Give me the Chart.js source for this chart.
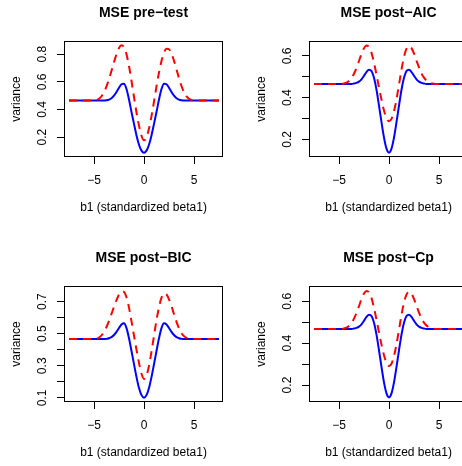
<!DOCTYPE html>
<html>
<head>
<meta charset="utf-8">
<script src="https://cdn.jsdelivr.net/npm/chart.js@4/dist/chart.umd.min.js"></script>
<style>
  html, body { margin: 0; padding: 0; background: #fff; overflow: hidden; width: 462px; height: 466px; }
  canvas { position: absolute; }
</style>
</head>
<body>
<canvas id="preTest" width="231" height="233" style="left:0px;top:0px"></canvas>
<canvas id="postAic" width="231" height="233" style="left:245px;top:0px"></canvas>
<canvas id="postBic" width="231" height="233" style="left:0px;top:245px"></canvas>
<canvas id="postCp" width="231" height="233" style="left:245px;top:245px"></canvas>
<script>
// Standardized beta1 grid shared by every curve
const xValues = [-7.5, -7, -6.5, -6, -5.5,
  -5, -4.75, -4.5, -4.25, -4, -3.75, -3.5, -3.25, -3, -2.75, -2.5, -2.25, -2, -1.75, -1.5, -1.25, -1, -0.75, -0.5, -0.25,
  0, 0.25, 0.5, 0.75, 1, 1.25, 1.5, 1.75, 2, 2.25, 2.5, 2.75, 3, 3.25, 3.5, 3.75, 4, 4.25, 4.5, 4.75, 5,
  5.5, 6, 6.5, 7, 7.5];

const xTicks = [-5, 0, 5];
const xTickLabels = ['\u22125', '0', '5'];

// MSE pre-test
const preTestSolid = [0.465, 0.465, 0.465, 0.465, 0.465,
  0.465, 0.465, 0.465, 0.465, 0.465, 0.467, 0.472, 0.482, 0.500, 0.527, 0.558, 0.583, 0.587, 0.548, 0.472, 0.382, 0.296, 0.212, 0.145, 0.102,
  0.087, 0.102, 0.145, 0.212, 0.296, 0.382, 0.472, 0.548, 0.587, 0.583, 0.558, 0.527, 0.500, 0.482, 0.472, 0.467, 0.465, 0.465, 0.465, 0.465, 0.465,
  0.465, 0.465, 0.465, 0.465, 0.465];
const preTestDashed = [0.465, 0.465, 0.465, 0.465, 0.465,
  0.465, 0.469, 0.478, 0.496, 0.525, 0.567, 0.620, 0.680, 0.742, 0.800, 0.846, 0.866, 0.852, 0.800, 0.715, 0.607, 0.490, 0.378, 0.283, 0.210,
  0.177, 0.200, 0.262, 0.352, 0.458, 0.568, 0.668, 0.752, 0.812, 0.840, 0.836, 0.805, 0.752, 0.690, 0.627, 0.570, 0.525, 0.495, 0.478, 0.469, 0.466,
  0.465, 0.465, 0.465, 0.465, 0.465];
const preTestYTicks = [0.2, 0.4, 0.6, 0.8];
const preTestYLabels = ['0.2', '0.4', '0.6', '0.8'];

// MSE post-AIC
const postAicSolid = [0.466, 0.466, 0.466, 0.466, 0.466,
  0.466, 0.466, 0.466, 0.466, 0.466, 0.466, 0.468, 0.471, 0.477, 0.488, 0.505, 0.523, 0.534, 0.528, 0.495, 0.438, 0.362, 0.282, 0.208, 0.155,
  0.136, 0.155, 0.208, 0.282, 0.362, 0.438, 0.495, 0.528, 0.534, 0.523, 0.505, 0.488, 0.477, 0.471, 0.468, 0.466, 0.466, 0.466, 0.466, 0.466, 0.466,
  0.466, 0.466, 0.466, 0.466, 0.466];
const postAicDashed = [0.466, 0.466, 0.466, 0.466, 0.466,
  0.466, 0.466, 0.468, 0.472, 0.480, 0.494, 0.515, 0.543, 0.576, 0.610, 0.637, 0.650, 0.643, 0.615, 0.568, 0.510, 0.448, 0.390, 0.338, 0.302,
  0.287, 0.298, 0.335, 0.392, 0.462, 0.535, 0.596, 0.635, 0.648, 0.638, 0.612, 0.578, 0.545, 0.516, 0.496, 0.482, 0.474, 0.469, 0.467, 0.466, 0.466,
  0.466, 0.466, 0.466, 0.466, 0.466];
const postAicYTicks = [0.2, 0.3, 0.4, 0.5, 0.6];
const postAicYLabels = ['0.2', '', '0.4', '', '0.6'];

// MSE post-BIC
const postBicSolid = [0.467, 0.467, 0.467, 0.467, 0.467,
  0.467, 0.467, 0.467, 0.467, 0.467, 0.468, 0.472, 0.479, 0.492, 0.512, 0.536, 0.558, 0.565, 0.535, 0.472, 0.392, 0.310, 0.230, 0.161, 0.117,
  0.101, 0.117, 0.161, 0.230, 0.310, 0.392, 0.472, 0.535, 0.565, 0.558, 0.536, 0.512, 0.492, 0.479, 0.472, 0.468, 0.467, 0.467, 0.467, 0.467, 0.467,
  0.467, 0.467, 0.467, 0.467, 0.467];
const postBicDashed = [0.467, 0.467, 0.467, 0.467, 0.467,
  0.467, 0.469, 0.476, 0.490, 0.512, 0.542, 0.580, 0.624, 0.668, 0.710, 0.745, 0.765, 0.762, 0.728, 0.663, 0.578, 0.488, 0.400, 0.318, 0.250,
  0.218, 0.240, 0.300, 0.388, 0.488, 0.585, 0.665, 0.725, 0.752, 0.745, 0.715, 0.672, 0.622, 0.574, 0.534, 0.504, 0.485, 0.474, 0.469, 0.467, 0.467,
  0.467, 0.467, 0.467, 0.467, 0.467];
const postBicYTicks = [0.1, 0.2, 0.3, 0.4, 0.5, 0.6, 0.7];
const postBicYLabels = ['0.1', '', '0.3', '', '0.5', '', '0.7'];

// MSE post-Cp
const postCpSolid = [0.468, 0.468, 0.468, 0.468, 0.468,
  0.468, 0.468, 0.468, 0.468, 0.468, 0.468, 0.470, 0.473, 0.479, 0.490, 0.507, 0.525, 0.536, 0.530, 0.498, 0.441, 0.366, 0.287, 0.213, 0.160,
  0.141, 0.160, 0.213, 0.287, 0.366, 0.441, 0.498, 0.530, 0.536, 0.525, 0.507, 0.490, 0.479, 0.473, 0.470, 0.468, 0.468, 0.468, 0.468, 0.468, 0.468,
  0.468, 0.468, 0.468, 0.468, 0.468];
const postCpDashed = [0.468, 0.468, 0.468, 0.468, 0.468,
  0.468, 0.468, 0.470, 0.474, 0.482, 0.496, 0.517, 0.545, 0.577, 0.611, 0.637, 0.649, 0.642, 0.615, 0.569, 0.512, 0.451, 0.393, 0.342, 0.306,
  0.291, 0.302, 0.339, 0.395, 0.464, 0.535, 0.594, 0.632, 0.645, 0.636, 0.611, 0.578, 0.546, 0.518, 0.498, 0.484, 0.476, 0.471, 0.469, 0.468, 0.468,
  0.468, 0.468, 0.468, 0.468, 0.468];
const postCpYTicks = [0.2, 0.3, 0.4, 0.5, 0.6];
const postCpYLabels = ['0.2', '', '0.4', '', '0.6'];

const FONT = '"Liberation Sans", Arial, Helvetica, sans-serif';
Chart.defaults.font.family = FONT;
Chart.defaults.color = '#000';

// Frame around the plotting region
const plotBox = {
  id: 'plotBox',
  afterDatasetsDraw(chart) {
    const a = chart.chartArea;
    const ctx = chart.ctx;
    ctx.save();
    ctx.strokeStyle = '#000';
    ctx.lineWidth = 1;
    ctx.strokeRect(Math.round(a.left) + 0.5, Math.round(a.top) + 0.5,
      Math.round(a.right - a.left) - 1, Math.round(a.bottom - a.top) - 1);
    ctx.restore();
  }
};

function toPoints(ys) {
  return xValues.map((x, i) => ({ x: x, y: ys[i] }));
}

function drawPanel(id, title, solid, dashed, yMin, yMax, yTicks, yLabels) {
  new Chart(document.getElementById(id), {
    type: 'line',
    data: {
      datasets: [
        {
          data: toPoints(dashed),
          borderColor: '#ff0000',
          borderWidth: 2,
          borderDash: [8, 6],
          pointRadius: 0,
          cubicInterpolationMode: 'monotone'
        },
        {
          data: toPoints(solid),
          borderColor: '#0000ff',
          borderWidth: 2,
          pointRadius: 0,
          cubicInterpolationMode: 'monotone'
        }
      ]
    },
    options: {
      responsive: false,
      animation: false,
      events: [],
      layout: { padding: { left: 0, right: 8, top: 0, bottom: 0 } },
      plugins: {
        legend: { display: false },
        tooltip: { enabled: false },
        title: {
          display: true,
          text: title,
          fullSize: false,
          color: '#000',
          font: { size: 14, weight: 'bold', family: FONT },
          padding: { top: 5, bottom: 19.2 }
        }
      },
      scales: {
        x: {
          type: 'linear',
          min: -8,
          max: 7.9,
          afterFit: (s) => { s.height = 76; },
          afterBuildTicks: (s) => { s.ticks = xTicks.map(v => ({ value: v })); },
          border: { display: false },
          grid: { display: true, drawOnChartArea: false, drawTicks: true, tickLength: 7, color: '#000', lineWidth: 1 },
          ticks: {
            autoSkip: false,
            maxRotation: 0,
            padding: 9,
            color: '#000',
            font: { size: 12 },
            callback: (v, i) => xTickLabels[i]
          },
          title: {
            display: true,
            text: 'b1 (standardized beta1)',
            color: '#000',
            font: { size: 12 },
            padding: { top: 0, bottom: 18.3 }
          }
        },
        y: {
          type: 'linear',
          min: yMin,
          max: yMax,
          afterFit: (s) => { s.width = 64; },
          afterBuildTicks: (s) => { s.ticks = yTicks.map(v => ({ value: v })); },
          border: { display: false },
          grid: { display: true, drawOnChartArea: false, drawTicks: true, tickLength: 7, color: '#000', lineWidth: 1 },
          ticks: {
            autoSkip: false,
            minRotation: 90,
            maxRotation: 90,
            crossAlign: 'center',
            padding: 6.3,
            color: '#000',
            font: { size: 12 },
            callback: (v, i) => yLabels[i]
          },
          title: {
            display: true,
            text: 'variance',
            color: '#000',
            font: { size: 12 },
            padding: { top: 9.3, bottom: 0 }
          }
        }
      }
    },
    plugins: [plotBox]
  });
}

drawPanel('preTest', 'MSE pre\u2212test', preTestSolid, preTestDashed, 0.056, 0.896, preTestYTicks, preTestYLabels);
drawPanel('postAic', 'MSE post\u2212AIC', postAicSolid, postAicDashed, 0.115, 0.672, postAicYTicks, postAicYLabels);
drawPanel('postBic', 'MSE post\u2212BIC', postBicSolid, postBicDashed, 0.074, 0.798, postBicYTicks, postBicYLabels);
drawPanel('postCp', 'MSE post\u2212Cp', postCpSolid, postCpDashed, 0.119, 0.673, postCpYTicks, postCpYLabels);
</script>
</body>
</html>
